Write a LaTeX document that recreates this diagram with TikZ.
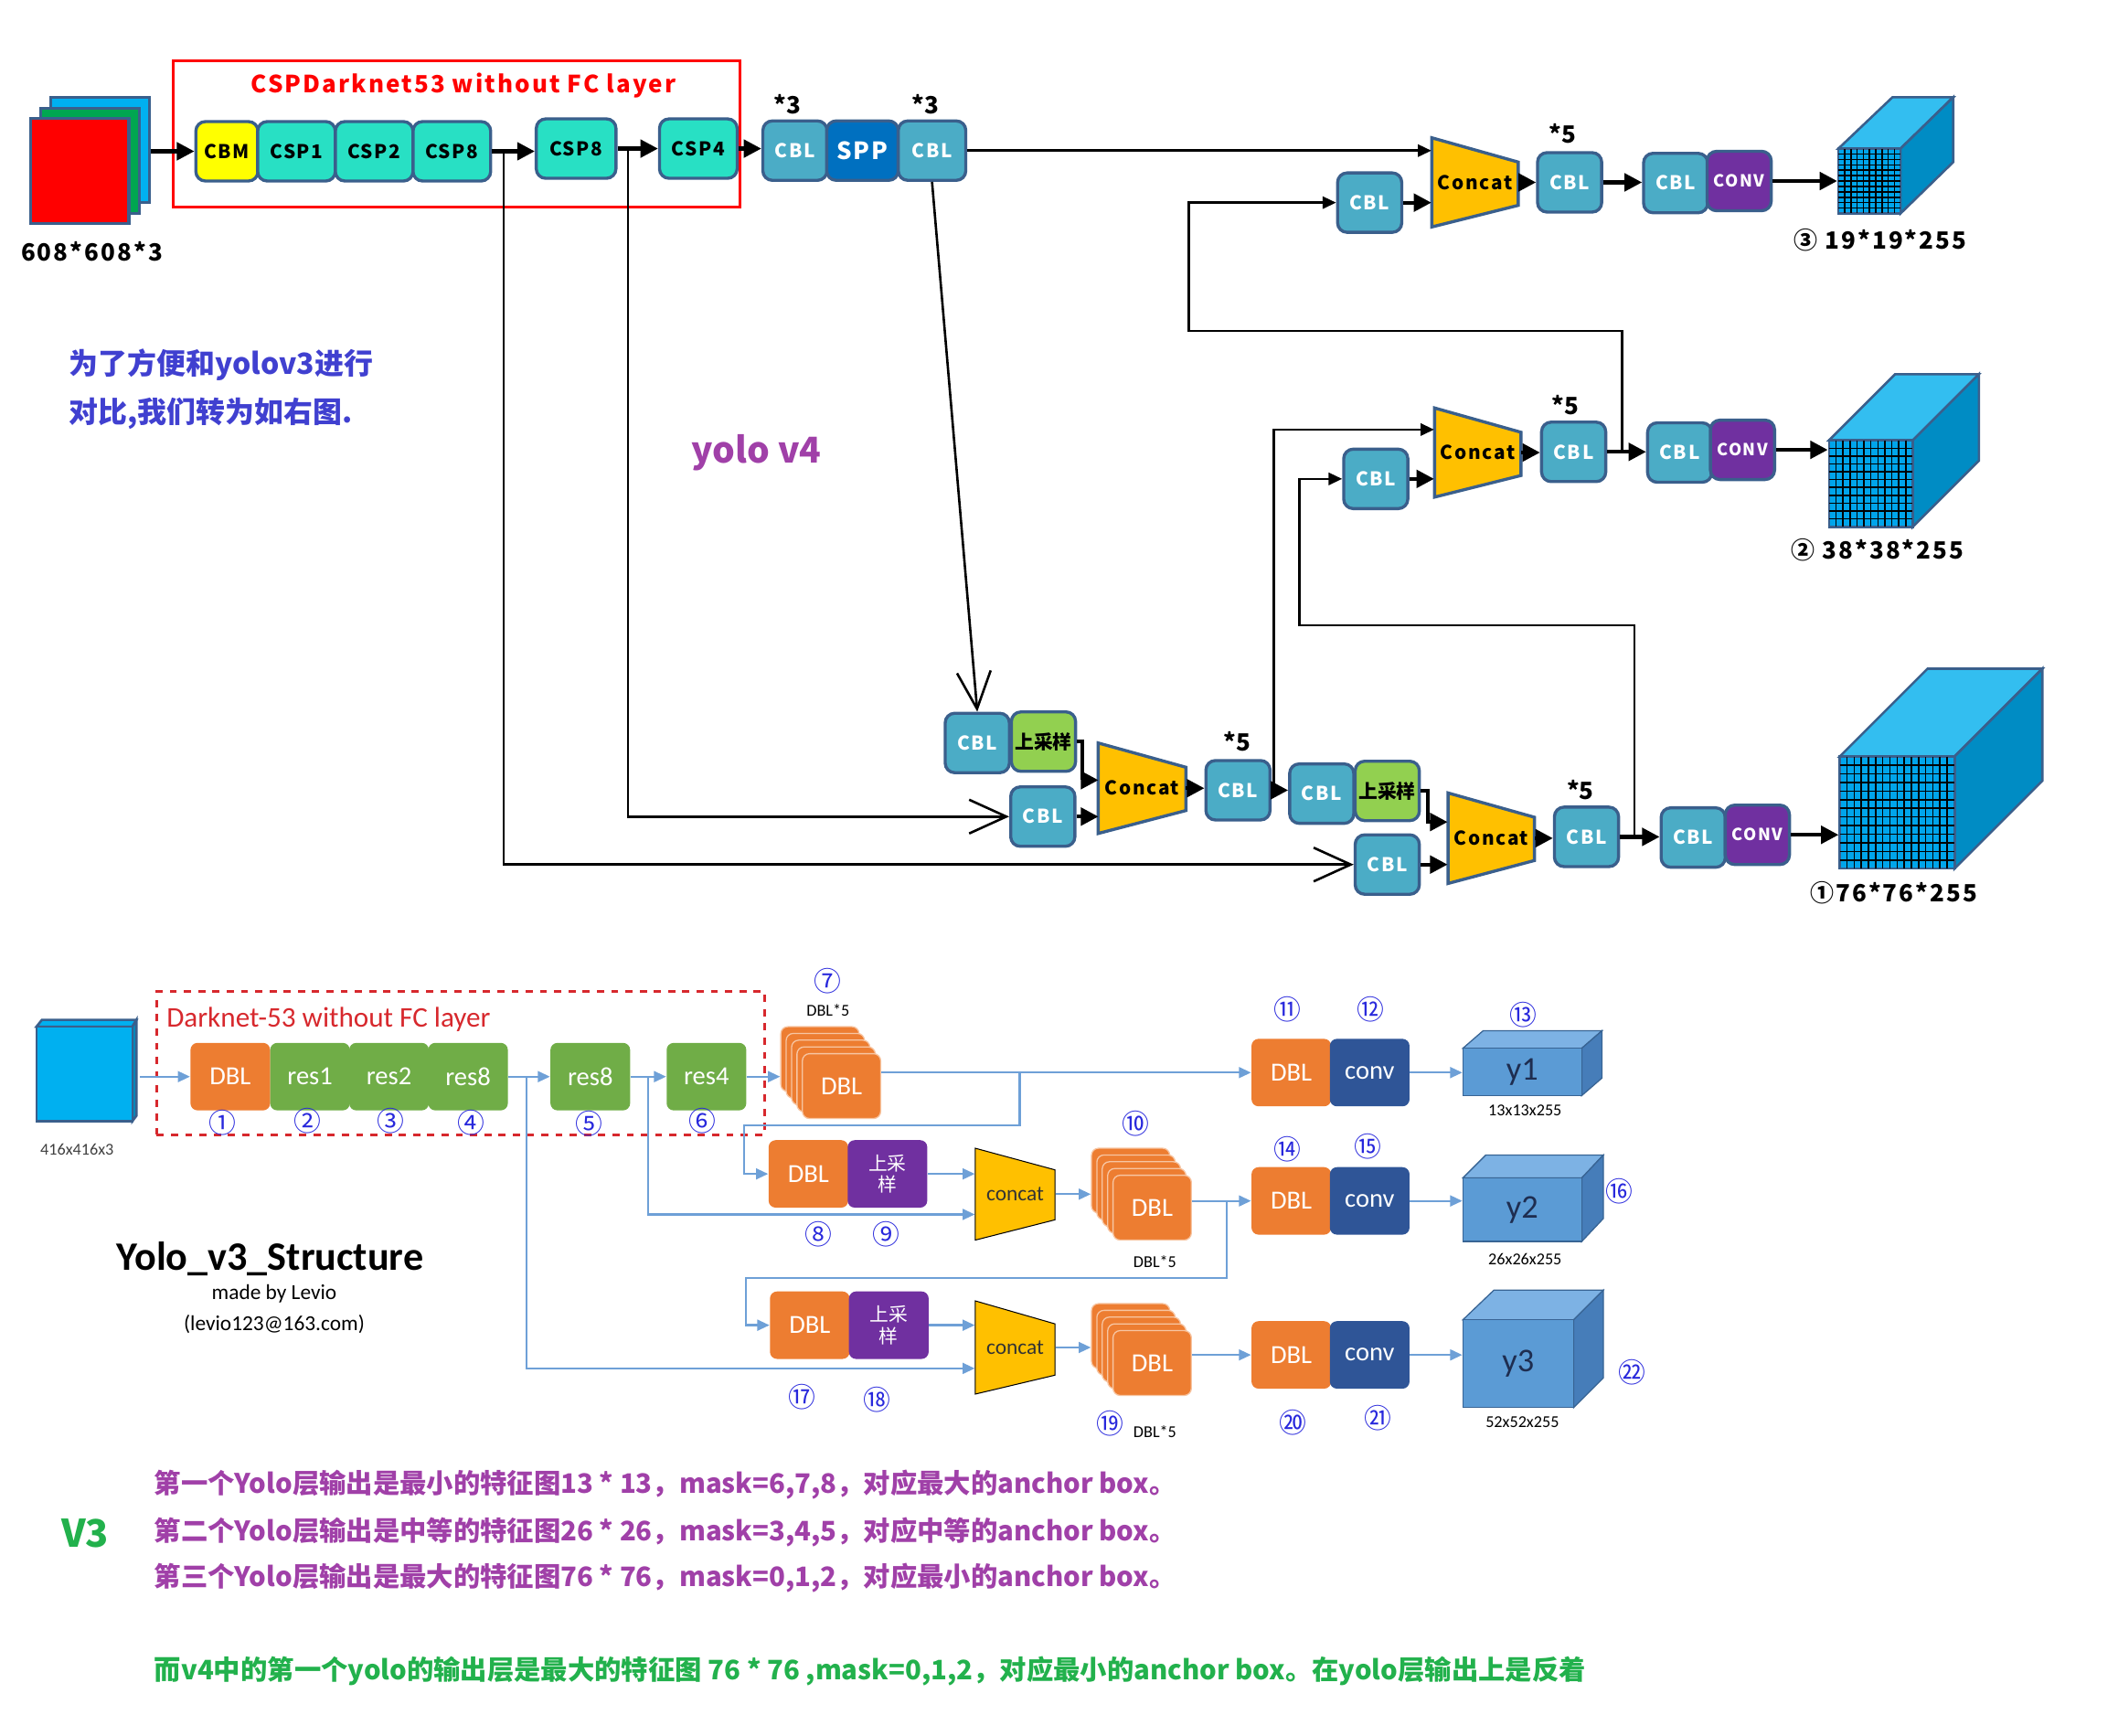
\documentclass[tikz,border=0pt]{standalone}
\usepackage{fontspec}
\setmainfont{Noto Sans CJK SC}
\newfontfamily\calfont{Carlito}
\newfontfamily\vfour{Noto Sans CJK SC}[LetterSpace=8]
\usetikzlibrary{arrows.meta,calc}

\definecolor{edgeblue}{RGB}{58,95,140}
\definecolor{cblblue}{RGB}{75,172,198}
\definecolor{sppblue}{RGB}{0,112,192}
\definecolor{cspteal}{RGB}{40,224,196}
\definecolor{cbmyellow}{RGB}{255,255,0}
\definecolor{convpurple}{RGB}{112,48,160}
\definecolor{upgreen}{RGB}{146,208,80}
\definecolor{catgold}{RGB}{255,192,0}
\definecolor{cubetop}{RGB}{51,190,240}
\definecolor{cubeside}{RGB}{0,140,196}
\definecolor{cubefront}{RGB}{0,165,235}
\definecolor{inblue}{RGB}{0,176,240}
\definecolor{ingreen}{RGB}{0,166,81}
\definecolor{tblue}{RGB}{64,64,208}
\definecolor{tpurple}{RGB}{160,64,168}
\definecolor{tgreen}{RGB}{34,177,76}
\definecolor{vorange}{RGB}{237,125,49}
\definecolor{vgreen}{RGB}{112,173,71}
\definecolor{vpurple}{RGB}{112,48,160}
\definecolor{vconvblue}{RGB}{47,85,151}
\definecolor{vline}{RGB}{110,160,215}
\definecolor{vnum}{RGB}{40,40,220}
\definecolor{vred}{RGB}{215,40,45}
\definecolor{ycube}{RGB}{91,155,213}
\definecolor{ycubetop}{RGB}{125,178,228}
\definecolor{ycubeside}{RGB}{70,125,185}
\definecolor{ytext}{RGB}{30,45,80}

\tikzset{
  box/.style={draw=edgeblue, line width=1.3pt, rounded corners=4pt, inner sep=0pt,
    minimum width=0.95cm, minimum height=0.88cm, font=\vfour\bfseries\fontsize{8}{9}\selectfont},
  cbl/.style={box, fill=cblblue, text=white},
  csp/.style={box, fill=cspteal, minimum width=1.15cm},
  conv/.style={box, fill=convpurple, text=white, font=\vfour\bfseries\fontsize{7}{8}\selectfont},
  upbox/.style={box, fill=upgreen, font=\bfseries\fontsize{8}{9}\selectfont},
  cat/.style={draw=edgeblue, line width=1.3pt, fill=catgold},
  cattext/.style={inner sep=0pt, minimum width=1.28cm, minimum height=1.3cm,
    font=\vfour\bfseries\fontsize{8}{9}\selectfont},
  mult/.style={font=\bfseries\fontsize{10}{10}\selectfont, inner sep=0pt},
  dimtext/.style={font=\vfour\bfseries\fontsize{10}{10}\selectfont, inner sep=0pt},
  layer/.style={draw=edgeblue, line width=1.3pt, inner sep=0pt, minimum width=1.46cm, minimum height=1.56cm},
  cubeface/.style={draw=edgeblue, line width=1pt},
  grid/.style={black, line width=0.6pt},
  thk/.style={line width=1.6pt, -{Triangle[length=0.26cm,width=0.26cm]}},
  thn/.style={line width=1pt, -{Triangle[length=0.2cm,width=0.18cm]}},
  vee/.style={line width=1pt, -{Straight Barb[length=0.55cm,width=0.5cm]}},
  % yolo v3
  vbox/.style={rounded corners=3pt, inner sep=0pt, minimum width=1.18cm, minimum height=1cm,
    text=white, font=\calfont\fontsize{11}{11}\selectfont},
  dbl/.style={vbox, fill=vorange},
  res/.style={vbox, fill=vgreen},
  ups/.style={vbox, fill=vpurple, align=center, font=\fontsize{8}{9}\selectfont},
  vconv/.style={vbox, fill=vconvblue},
  stk/.style={dbl, draw=vorange!45!white, line width=0.5pt, minimum width=1.16cm, minimum height=0.96cm},
  varr/.style={vline, line width=0.9pt, -{Triangle[length=0.18cm,width=0.16cm]}},
  vcat/.style={fill=catgold},
  vcattext/.style={inner sep=0pt, minimum width=1.18cm, minimum height=1.3cm, text=black!80,
    font=\calfont\fontsize{9}{9}\selectfont},
  num/.style={text=vnum, font=\fontsize{11.5}{12}\selectfont, inner sep=0pt},
  smalltext/.style={font=\calfont\fontsize{7}{8}\selectfont, inner sep=0pt},
  ycf/.style={draw=ycubeside!80!black, line width=0.5pt},
  note/.style={anchor=west, inner sep=0pt, font=\bfseries\fontsize{11.3}{11}\selectfont},
}

\begin{document}
\begin{tikzpicture}[x=0.02cm, y=-0.02cm]
    \useasboundingbox (0,0) rectangle (1568,1285);

    % ---------------- yolo v4 ----------------
    \node[layer, fill=inblue] (inb) at (74,111) {};
    \node[layer, fill=ingreen] (ing) at (66.5,119) {};
    \node[layer, fill=red] (inr) at (59,126.5) {};
    \node[dimtext] (insz) at (68,186) {608*608*3};

    \node[draw=red, line width=1.2pt, minimum width=8.4cm, minimum height=2.16cm, inner sep=0pt] (bbone) at (338,99) {};
    \node[text=red, font=\vfour\bfseries\fontsize{10}{10}\selectfont] (bbtitle) at (343,63) {CSPDarknet53 without FC layer};

    \node[box, fill=cbmyellow, minimum width=0.92cm] (cbm) at (168,112) {CBM};
    \node[csp] (csp1) at (219.5,112) {CSP1};
    \node[csp] (csp2) at (277,112) {CSP2};
    \node[csp] (csp8a) at (334.5,112) {CSP8};
    \node[csp, minimum width=1.18cm] (csp8b) at (426.5,110) {CSP8};
    \node[csp] (csp4) at (517,110) {CSP4};
    \node[cbl] (cbla) at (588.5,111.5) {CBL};
    \node[box, fill=sppblue, text=white, minimum width=1.06cm, font=\vfour\bfseries\fontsize{10}{10}\selectfont] (spp) at (638.5,111.5) {SPP};
    \node[cbl, minimum width=1cm] (cblb) at (690,111.5) {CBL};
    \node[mult] (m3a) at (583,77) {*3};
    \node[mult] (m3b) at (685,77) {*3};

    % row 1 head
    \node[cbl] (cr1) at (1014,150) {CBL};
    \filldraw[cat] (1060,102) -- (1124,120) -- (1124,152) -- (1060,168) -- cycle;
    \node[cattext] (cat1) at (1092,135) {Concat};
    \node[cbl] (c5a) at (1162,135) {CBL};
    \node[mult] (m5a) at (1157,99) {*5};
    \node[cbl] (ch1) at (1240.5,135.5) {CBL};
    \node[conv] (cv1) at (1287.5,134) {CONV};
    \filldraw[cubeface, fill=cubetop] (1361,110) -- (1401,72) -- (1446,72) -- (1407,110) -- cycle;
    \filldraw[cubeface, fill=cubeside] (1407,110) -- (1446,72) -- (1446,120) -- (1407,158) -- cycle;
    \node[cubeface, fill=cubefront, minimum width=0.92cm, minimum height=0.96cm, inner sep=0pt] (y19) at (1384,134) {};
    \foreach \i in {1,...,9}
        \draw[grid] (1361+\i*4.6,110) -- (1361+\i*4.6,158);
    \foreach \j in {1,...,11}
        \draw[grid] (1361,110+\j*4) -- (1407,110+\j*4);
    \node[dimtext] (l19) at (1392,178) {③ 19*19*255};

    % row 2 head
    \node[cbl] (cr2) at (1018.5,354.5) {CBL};
    \filldraw[cat] (1062,302) -- (1126,320) -- (1126,352) -- (1062,368) -- cycle;
    \node[cattext] (cat2) at (1094,335) {Concat};
    \node[cbl] (c5b) at (1165,334.5) {CBL};
    \node[mult] (m5b) at (1159,300) {*5};
    \node[cbl] (ch2) at (1243.5,335) {CBL};
    \node[conv] (cv2) at (1290,333) {CONV};
    \filldraw[cubeface, fill=cubetop] (1354,326) -- (1403,277) -- (1465,277) -- (1416,326) -- cycle;
    \filldraw[cubeface, fill=cubeside] (1416,326) -- (1465,277) -- (1465,341) -- (1416,390) -- cycle;
    \node[cubeface, fill=cubefront, minimum width=1.24cm, minimum height=1.28cm, inner sep=0pt] (y38) at (1385,358) {};
    \foreach \i in {1,...,11}
        \draw[grid] (1354+\i*5.17,326) -- (1354+\i*5.17,390);
    \foreach \j in {1,...,10}
        \draw[grid] (1354,326+\j*5.8) -- (1416,326+\j*5.8);
    \node[dimtext] (l38) at (1390,407) {② 38*38*255};

    % row 3 head
    \node[cbl] (cu1) at (723.5,550) {CBL};
    \node[upbox] (up1) at (772.5,549) {上采样};
    \node[cbl] (cm1) at (772,604.5) {CBL};
    \filldraw[cat] (813,550) -- (878,568) -- (878,600) -- (813,617) -- cycle;
    \node[cattext] (cat3) at (845.5,583.5) {Concat};
    \node[cbl] (c5c) at (916.5,585) {CBL};
    \node[mult] (m5c) at (916,549) {*5};
    \node[cbl] (cu2) at (978.5,587.5) {CBL};
    \node[upbox] (up2) at (1027,585.5) {上采样};
    \node[cbl] (cm2) at (1027,640) {CBL};
    \filldraw[cat] (1072,587) -- (1136,605) -- (1136,637) -- (1072,654) -- cycle;
    \node[cattext] (cat4) at (1104,620.5) {Concat};
    \node[cbl] (c5d) at (1174.5,619.5) {CBL};
    \node[mult] (m5d) at (1170,585) {*5};
    \node[cbl] (ch3) at (1253.5,620) {CBL};
    \node[conv] (cv3) at (1301,618) {CONV};
    \filldraw[cubeface, fill=cubetop] (1362,560) -- (1427,495) -- (1512,495) -- (1447,560) -- cycle;
    \filldraw[cubeface, fill=cubeside] (1447,560) -- (1512,495) -- (1512,578) -- (1447,643) -- cycle;
    \node[cubeface, fill=cubefront, minimum width=1.7cm, minimum height=1.66cm, inner sep=0pt] (y76) at (1404.5,601.5) {};
    \foreach \i in {1,...,15}
        \draw[grid] (1362+\i*5.3,560) -- (1362+\i*5.3,643);
    \foreach \j in {1,...,12}
        \draw[grid] (1362,560+\j*6.4) -- (1447,560+\j*6.4);
    \node[dimtext] (l76) at (1402,661) {①76*76*255};

    \node[note, text=tblue, font=\bfseries\fontsize{12.3}{13}\selectfont] (note1) at (51,270) {为了方便和yolov3进行};
    \node[note, text=tblue, font=\bfseries\fontsize{12.3}{13}\selectfont] (note2) at (51,306) {对比,我们转为如右图.};
    \node[text=tpurple, font=\bfseries\fontsize{15}{15}\selectfont] (v4tag) at (560,335) {yolo v4};

    % v4 connectors
    \draw[thk] (inb.east |- cbm.west) -- (cbm.west);
    \draw[thk] (csp8a.east) -- (csp8b.west |- csp8a.east);
    \draw[thk] (csp8b.east) -- (csp4.west);
    \draw[thk] (csp4.east) -- (cbla.west |- csp4.east);
    \draw[thn] (cblb.east) -- (cblb.east -| cat1.west);
    \draw[vee] (cblb.south) -- (cu1.north);
    \coordinate (j8a) at (373,112);
    \coordinate (j8b) at (465,110);
    \draw[vee] (j8a) |- (cm2.west);
    \draw[vee] (j8b) |- (cm1.west);
    \draw[thk] (up1.east) -- ++(4,0) |- ($(cat3.west)+(0,-6)$);
    \draw[thk] (cm1.east) -- (cm1.east -| cat3.west);
    \draw[thk] (cat3.east) -- (c5c.west |- cat3.east);
    \draw[thk] (c5c.east) -- (cu2.west |- c5c.east);
    \coordinate (k1) at (943,585);
    \draw[thn] (k1) |- ($(cat2.west)+(0,-17)$);
    \draw[thk] (up2.east) -- ++(5,0) |- ($(cat4.west)+(0,-12)$);
    \draw[thk] (cm2.east) -- (cm2.east -| cat4.west);
    \draw[thk] (cat4.east) -- (c5d.west |- cat4.east);
    \draw[thk] (c5d.east) -- (ch3.west |- c5d.east);
    \coordinate (k3) at (1210,619.5);
    \draw[thn] (k3) |- (962,463) |- (cr2.west);
    \draw[thk] (cr2.east) -- (cr2.east -| cat2.west);
    \draw[thk] (cat2.east) -- (c5b.west |- cat2.east);
    \draw[thk] (c5b.east) -- (ch2.west |- c5b.east);
    \coordinate (k2) at (1201,334.5);
    \draw[thn] (k2) |- (880,245) |- (cr1.west);
    \draw[thk] (cr1.east) -- (cr1.east -| cat1.west);
    \draw[thk] (cat1.east) -- (c5a.west |- cat1.east);
    \draw[thk] (c5a.east) -- (ch1.west |- c5a.east);
    \draw[thk] (cv1.east) -- (y19.west |- cv1.east);
    \draw[thk] (cv2.east) -- (y38.west |- cv2.east);
    \draw[thk] (cv3.east) -- (y76.west |- cv3.east);

    % ---------------- yolo v3 ----------------
    \filldraw[cubeface, fill=inblue] (27,760) -- (31,755) -- (101,755) -- (98,760) -- cycle;
    \filldraw[cubeface, fill=inblue!80!black] (98,760) -- (101,755) -- (101,826) -- (98,830) -- cycle;
    \node[cubeface, fill=inblue, minimum width=1.42cm, minimum height=1.4cm, inner sep=0pt] (in3) at (62.5,795) {};
    \node[smalltext, text=black!75] (in3sz) at (57,851) {416x416x3};

    \node[draw=vred, dashed, line width=1pt, minimum width=9cm, minimum height=2.12cm, inner sep=0pt] (dkbox) at (341,787) {};
    \node[anchor=west, inner sep=0pt, text=vred, font=\calfont\fontsize{12}{12}\selectfont] (dktitle) at (123,755) {Darknet-53 without FC layer};

    \node[dbl] (d1) at (170.5,797) {DBL};
    \node[res] (r1) at (229.5,797) {res1};
    \node[res] (r2) at (288,797) {res2};
    \node[res] (r8a) at (346.5,797) {res8};
    \node[res] (r8b) at (437,797) {res8};
    \node[res] (r4) at (523,797) {res4};

    \node[stk] (stk1b) at (607,784) {};
    \foreach \k in {1,2,3}
        \node[stk] at (607+\k*4,784+\k*5) {};
    \node[stk] (stk1) at (623,804) {DBL};

    \node[dbl] (d11) at (956,794) {DBL};
    \node[vconv] (cv12) at (1014,794) {conv};
    \node[dbl] (d8) at (598.5,869) {DBL};
    \node[ups] (u9) at (657,869) {上采\\样};
    \filldraw[vcat] (722,850) -- (781,866) -- (781,903) -- (722,918) -- cycle;
    \node[vcattext] (vc1) at (751.5,884) {concat};
    \node[stk] (stk2b) at (837,874) {};
    \foreach \k in {1,2,3}
        \node[stk] at (837+\k*4,874+\k*5) {};
    \node[stk] (stk2) at (853,894) {DBL};
    \node[dbl] (d14) at (956,889) {DBL};
    \node[vconv] (cv15) at (1014,889) {conv};

    \node[dbl] (d17) at (599.5,981) {DBL};
    \node[ups] (u18) at (658,981) {上采\\样};
    \filldraw[vcat] (722,963) -- (781,980) -- (781,1018) -- (722,1032) -- cycle;
    \node[vcattext] (vc2) at (751.5,997.5) {concat};
    \node[stk] (stk3b) at (837,989) {};
    \foreach \k in {1,2,3}
        \node[stk] at (837+\k*4,989+\k*5) {};
    \node[stk] (stk3) at (853,1009) {DBL};
    \node[dbl] (d20) at (956,1003) {DBL};
    \node[vconv] (cv21) at (1014,1003) {conv};

    % output cubes
    \filldraw[ycf, fill=ycubetop] (1083,776) -- (1098,763) -- (1186,763) -- (1171,776) -- cycle;
    \filldraw[ycf, fill=ycubeside] (1171,776) -- (1186,763) -- (1186,798) -- (1171,811) -- cycle;
    \node[ycf, fill=ycube, minimum width=1.76cm, minimum height=0.7cm, inner sep=0pt, text=ytext, font=\calfont\fontsize{14}{14}\selectfont] (y1) at (1127,793.5) {y1};
    \filldraw[ycf, fill=ycubetop] (1083,872) -- (1100,855) -- (1187,855) -- (1171,872) -- cycle;
    \filldraw[ycf, fill=ycubeside] (1171,872) -- (1187,855) -- (1187,902) -- (1171,919) -- cycle;
    \node[ycf, fill=ycube, minimum width=1.76cm, minimum height=0.94cm, inner sep=0pt, text=ytext, font=\calfont\fontsize{14}{14}\selectfont] (y2) at (1127,895.5) {y2};
    \filldraw[ycf, fill=ycubetop] (1083,977) -- (1106,955) -- (1187,955) -- (1165,977) -- cycle;
    \filldraw[ycf, fill=ycubeside] (1165,977) -- (1187,955) -- (1187,1020) -- (1165,1042) -- cycle;
    \node[ycf, fill=ycube, minimum width=1.64cm, minimum height=1.3cm, inner sep=0pt, text=ytext, font=\calfont\fontsize{14}{14}\selectfont] (y3) at (1124,1009.5) {y3};
    \node[smalltext] (sz13) at (1129,822) {13x13x255};
    \node[smalltext] (sz26) at (1129,932) {26x26x255};
    \node[smalltext] (sz52) at (1127,1053) {52x52x255};
    \node[smalltext] (d5a) at (613,748) {DBL*5};
    \node[smalltext] (d5b) at (855,934) {DBL*5};
    \node[smalltext] (d5c) at (855,1060) {DBL*5};

    % circled numbers
    \node[num] (n1) at (165,831) {①};
    \node[num] (n2) at (228,830) {②};
    \node[num] (n3) at (289,830) {③};
    \node[num] (n4) at (349,831) {④};
    \node[num] (n5) at (436,832) {⑤};
    \node[num] (n6) at (520,830) {⑥};
    \node[num] (n7) at (613,726) {⑦};
    \node[num] (n8) at (606,914) {⑧};
    \node[num] (n9) at (656,914) {⑨};
    \node[num] (n10) at (841,832) {⑩};
    \node[num] (n11) at (953,747) {⑪};
    \node[num] (n12) at (1015,747) {⑫};
    \node[num] (n13) at (1128,751) {⑬};
    \node[num] (n14) at (953,851) {⑭};
    \node[num] (n15) at (1013,849) {⑮};
    \node[num] (n16) at (1199,882) {⑯};
    \node[num] (n17) at (594,1034) {⑰};
    \node[num] (n18) at (649,1036) {⑱};
    \node[num] (n19) at (822,1054) {⑲};
    \node[num] (n20) at (957,1053) {⑳};
    \node[num] (n21) at (1020,1050) {㉑};
    \node[num] (n22) at (1208,1016) {㉒};

    % v3 connectors
    \draw[varr] (in3.east |- d1.west) ++(5,0) -- (d1.west);
    \draw[varr] (r8a.east) -- (r8b.west);
    \draw[varr] (r8b.east) -- (r4.west);
    \draw[varr] (r4.east) -- (stk1b.west |- r4.east);
    \draw[varr] (stk1.east |- d11.west) -- (d11.west);
    \coordinate (b1) at (755,794);
    \draw[varr] (b1) |- (551,833) |- (d8.west);
    \draw[varr] (u9.east) -- (u9.east -| vc1.west);
    \coordinate (b2) at (480,797);
    \draw[varr] (b2) |- ($(vc1.west)+(0,15)$);
    \coordinate (b3) at (390,797);
    \draw[varr] (b3) |- ($(vc2.west)+(0,15.5)$);
    \draw[varr] (vc1.east) -- (stk2b.west |- vc1.east);
    \draw[varr] (stk2.east |- d14.west) -- (d14.west);
    \coordinate (b4) at (908,889);
    \draw[varr] (b4) |- (552,946) |- (d17.west);
    \draw[varr] (u18.east) -- (u18.east -| vc2.west);
    \draw[varr] (vc2.east) -- (stk3b.west |- vc2.east);
    \draw[varr] (stk3.east |- d20.west) -- (d20.west);
    \draw[varr] (cv12.east) -- (y1.west |- cv12.east);
    \draw[varr] (cv15.east) -- (y2.west |- cv15.east);
    \draw[varr] (cv21.east) -- (y3.west |- cv21.east);

    \node[font=\calfont\bfseries\fontsize{17}{17}\selectfont] (v3title) at (200,932) {Yolo\_v3\_Structure};
    \node[font=\calfont\fontsize{9}{9}\selectfont] (maker) at (203,958) {made by Levio};
    \node[font=\calfont\fontsize{9}{9}\selectfont] (mail) at (203,980) {(levio123@163.com)};

    % notes
    \node[text=tgreen, font=\bfseries\fontsize{16}{16}\selectfont] (v3tag) at (63,1135) {V3};
    \node[note, text=tpurple] (line1) at (114,1099) {第一个Yolo层输出是最小的特征图13 * 13，mask=6,7,8，对应最大的anchor box。};
    \node[note, text=tpurple] (line2) at (114,1134) {第二个Yolo层输出是中等的特征图26 * 26，mask=3,4,5，对应中等的anchor box。};
    \node[note, text=tpurple] (line3) at (114,1168) {第三个Yolo层输出是最大的特征图76 * 76，mask=0,1,2，对应最小的anchor box。};
    \node[note, text=tgreen] (line4) at (114,1237) {而v4中的第一个yolo的输出层是最大的特征图 76 * 76 ,mask=0,1,2，对应最小的anchor box。在yolo层输出上是反着};
\end{tikzpicture}
\end{document}
